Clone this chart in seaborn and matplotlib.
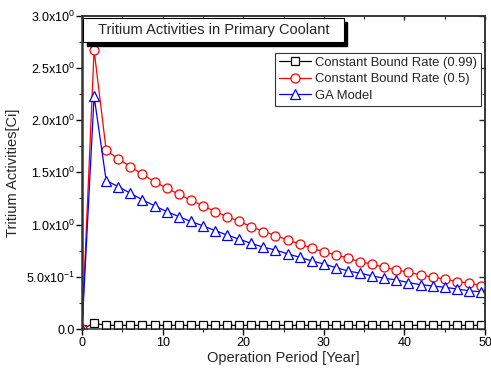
import numpy as np
import pandas as pd
import matplotlib
matplotlib.use("Agg")
import matplotlib.pyplot as plt
from matplotlib.patches import Rectangle
from matplotlib.ticker import MultipleLocator
import seaborn as sns

# Data
years = [i * 1.5 for i in range(34)]
bound_099 = [0.0, 0.055] + [0.035] * 32
bound_05 = [0.0, 2.67, 1.71, 1.63, 1.556, 1.48, 1.41, 1.35, 1.29, 1.234,
            1.18, 1.125, 1.077, 1.03, 0.98, 0.933, 0.895, 0.853, 0.815, 0.774,
            0.74, 0.71, 0.678, 0.645, 0.62, 0.59, 0.566, 0.544, 0.518, 0.496,
            0.477, 0.454, 0.44, 0.415]
ga_model = [0.0, 2.23, 1.42, 1.364, 1.30, 1.237, 1.18, 1.125, 1.077, 1.03,
            0.988, 0.943, 0.90, 0.86, 0.82, 0.783, 0.757, 0.72, 0.687, 0.652,
            0.623, 0.588, 0.556, 0.534, 0.508, 0.486, 0.47, 0.444, 0.425, 0.412,
            0.40, 0.383, 0.367, 0.355]

y_ticks = [0.0, 0.5, 1.0, 1.5, 2.0, 2.5, 3.0]
y_labels = ['0.0', r'5.0x10$^{-1}$', r'1.0x10$^{0}$', r'1.5x10$^{0}$',
            r'2.0x10$^{0}$', r'2.5x10$^{0}$', r'3.0x10$^{0}$']
x_ticks = [0, 10, 20, 30, 40, 50]

sns.set_style('ticks')
plt.rcParams['font.family'] = ['Liberation Sans', 'DejaVu Sans']
plt.rcParams['mathtext.fontset'] = 'custom'
plt.rcParams['mathtext.rm'] = 'Liberation Sans'
plt.rcParams['mathtext.it'] = 'Liberation Sans'

fig = plt.figure(figsize=(4.91, 3.69), dpi=100)
ax = fig.add_axes([82 / 491, 40 / 369, 403 / 491, 313.3 / 369])

series = [
    (bound_099, 'Constant Bound Rate (0.99)', 'black', 's', 5.2),
    (bound_05, 'Constant Bound Rate (0.5)', 'red', 'o', 6.5),
    (ga_model, 'GA Model', 'blue', '^', 6.5),
]
for vals, name, col, mk, ms in series:
    sns.lineplot(x=years, y=vals, ax=ax, color=col, marker=mk, markersize=ms,
                 markerfacecolor='white', markeredgecolor=col,
                 markeredgewidth=0.9, linewidth=0.9, label=name)

ax.set_xlim(0, 50)
ax.set_ylim(0, 3.0)
ax.set_xticks(x_ticks)
ax.set_yticks(y_ticks)
ax.set_yticklabels(y_labels)
ax.xaxis.set_minor_locator(MultipleLocator(5))
ax.yaxis.set_minor_locator(MultipleLocator(0.25))
ax.tick_params(which='major', direction='out', length=4, width=1,
               labelsize=9, colors='black')
ax.tick_params(which='minor', direction='out', length=2.5, width=0.8)
ax.tick_params(axis='x', pad=2)
ax.tick_params(axis='y', pad=1)

for side in ['top', 'right', 'bottom']:
    ax.spines[side].set_linewidth(1.1)
    ax.spines[side].set_color('#333333')
ax.spines['left'].set_linewidth(1.8)
ax.spines['left'].set_color('#333333')

sec_y = ax.secondary_yaxis('right')
sec_y.set_yticks(y_ticks)
sec_y.yaxis.set_minor_locator(MultipleLocator(0.25))
sec_y.tick_params(which='major', direction='in', length=4, width=1, labelright=False)
sec_y.tick_params(which='minor', direction='in', length=2.5, width=0.8)
sec_y.spines['right'].set_linewidth(1.1)

sec_x = ax.secondary_xaxis('top')
sec_x.set_xticks(x_ticks)
sec_x.xaxis.set_minor_locator(MultipleLocator(5))
sec_x.tick_params(which='major', direction='in', length=3, width=1, labeltop=False)
sec_x.tick_params(which='minor', direction='in', length=2, width=0.8)
sec_x.spines['top'].set_linewidth(1.1)

ax.set_xlabel('Operation Period [Year]', fontsize=10.5, labelpad=1)
ax.set_ylabel('Tritium Activities[Ci]', fontsize=10.5, labelpad=4)

# Title box with drop shadow
ax.add_patch(Rectangle((0.012, 0.902), 0.646, 0.078, transform=ax.transAxes,
                       facecolor='black', edgecolor='black', zorder=5, clip_on=False))
ax.add_patch(Rectangle((0.003, 0.916), 0.647, 0.077, transform=ax.transAxes,
                       facecolor='white', edgecolor='black', linewidth=0.8,
                       zorder=6, clip_on=False))
ax.text(0.04, 0.954, 'Tritium Activities in Primary Coolant', transform=ax.transAxes,
        fontsize=10.5, va='center', ha='left', zorder=7)

leg = ax.legend(loc='upper right', bbox_to_anchor=(0.989, 0.882), fontsize=9.4,
                frameon=True, fancybox=False, borderpad=0.3, labelspacing=0.33,
                handlelength=2.4, handletextpad=0.3, borderaxespad=0)
leg.get_frame().set_edgecolor('#333333')
leg.get_frame().set_linewidth(0.8)
leg.get_frame().set_alpha(1)

fig.savefig('out.png', dpi=100)
